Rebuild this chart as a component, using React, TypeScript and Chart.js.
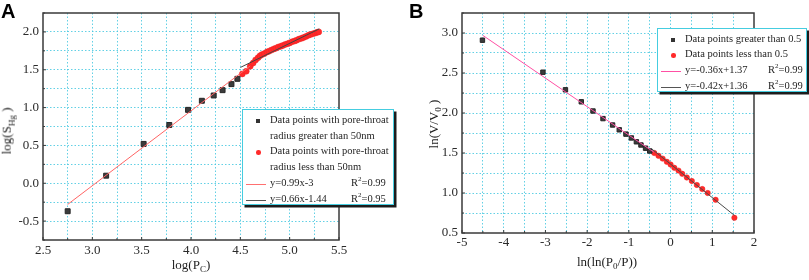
import React, { useEffect, useRef } from 'react';
import { Chart, registerables } from 'chart.js';

Chart.register(...registerables);
Chart.defaults.font.family = 'Liberation Serif';

// ---------------- Panel A data ----------------
const aBigX = [2.75, 3.14, 3.52, 3.78, 3.97, 4.11, 4.23, 4.32, 4.41, 4.47];
const aBigY = [-0.37, 0.1, 0.52, 0.77, 0.97, 1.09, 1.16, 1.23, 1.31, 1.38];
const aSmallX = [4.52, 4.56, 4.6, 4.63, 4.655, 4.68, 4.7, 4.72, 4.745, 4.77, 4.79, 4.815, 4.84, 4.86, 4.885, 4.91, 4.93, 4.955, 4.98, 5.0, 5.025, 5.05, 5.07, 5.095, 5.12, 5.14, 5.165, 5.19, 5.21, 5.235, 5.26, 5.28, 5.295];
const aSmallY = [1.445, 1.48, 1.545, 1.59, 1.63, 1.66, 1.685, 1.7, 1.715, 1.735, 1.745, 1.76, 1.775, 1.785, 1.8, 1.81, 1.82, 1.835, 1.845, 1.855, 1.87, 1.88, 1.89, 1.905, 1.915, 1.925, 1.94, 1.955, 1.965, 1.975, 1.985, 1.995, 2.0];
const aFit1X = [2.75, 4.6];
const aFit1Y = [-0.28, 1.55];
const aFit2X = [4.5, 5.3];
const aFit2Y = [1.53, 2.04];
const aXTicks = ['2.5', '3.0', '3.5', '4.0', '4.5', '5.0', '5.5'];
const aYTicks = ['-0.5', '0.0', '0.5', '1.0', '1.5', '2.0'];

// ---------------- Panel B data ----------------
const bBigX = [-4.51, -3.06, -2.52, -2.14, -1.86, -1.62, -1.39, -1.23, -1.07, -0.94, -0.82, -0.71, -0.6, -0.5];
const bBigY = [2.91, 2.51, 2.29, 2.14, 2.025, 1.93, 1.85, 1.79, 1.736, 1.688, 1.64, 1.6, 1.56, 1.525];
const bSmallX = [-0.39, -0.29, -0.19, -0.09, 0.0, 0.09, 0.19, 0.28, 0.39, 0.51, 0.63, 0.76, 0.89, 1.08, 1.53];
const bSmallY = [1.5, 1.465, 1.43, 1.39, 1.356, 1.315, 1.28, 1.24, 1.194, 1.15, 1.1, 1.05, 1.0, 0.915, 0.69];
const bFit1X = [-4.5, -0.4];
const bFit1Y = [2.97, 1.51];
const bFit2X = [-0.45, 1.53];
const bFit2Y = [1.55, 0.72];
const bXTicks = ['-5', '-4', '-3', '-2', '-1', '0', '1', '2'];
const bYTicks = ['0.5', '1.0', '1.5', '2.0', '2.5', '3.0'];

const SERIF = "'Liberation Serif', 'Times New Roman', serif";
const GRID = 'rgba(70,200,225,0.85)';
const TICK_COLOR = '#2a2a2a';
const SQ_FILL = '#3b3b3b';
const RED = '#ff2a2a';

const pts = (xs: number[], ys: number[]) => xs.map((x, i) => ({ x, y: ys[i] }));

const framePlugin = {
  id: 'frame',
  afterDatasetsDraw(chart: any) {
    const { ctx, chartArea } = chart;
    const { left, top, right, bottom } = chartArea;
    ctx.save();
    ctx.strokeStyle = '#3a3a3a';
    ctx.lineWidth = 1;
    // inward tick marks on the bottom and left axes
    const xs = chart.scales.x;
    const ys = chart.scales.y;
    ctx.beginPath();
    xs.ticks.forEach((t: any, i: number) => {
      const px = xs.getPixelForTick(i);
      const len = xs.getLabels && t.label ? 3 : 2;
      ctx.moveTo(px, bottom);
      ctx.lineTo(px, bottom - (t.label ? 3 : 2));
      void len;
    });
    ys.ticks.forEach((t: any, i: number) => {
      const py = ys.getPixelForTick(i);
      ctx.moveTo(left, py);
      ctx.lineTo(left + (t.label ? 3 : 2), py);
    });
    ctx.stroke();
    ctx.lineWidth = 1.5;
    ctx.strokeRect(left, top, right - left, bottom - top);
    ctx.restore();
  },
};

function makeScale(axis: 'x' | 'y', min: number, max: number, step: number, labels: string[], fit: number, pad: number) {
  return {
    type: 'linear',
    min,
    max,
    afterFit: (s: any) => {
      if (axis === 'x') s.height = fit;
      else s.width = fit;
    },
    ticks: {
      stepSize: step,
      autoSkip: false,
      maxRotation: 0,
      minRotation: 0,
      padding: pad,
      color: TICK_COLOR,
      font: { family: 'Liberation Serif', size: 13 },
      callback: (v: any) => {
        const n = Number(v);
        const lab = labels.find((l) => Math.abs(parseFloat(l) - n) < 1e-6);
        return lab !== undefined ? lab : '';
      },
    },
    grid: {
      color: (c: any) => {
        const v = c.tick ? c.tick.value : null;
        if (v === null || Math.abs(v - min) < 1e-9 || Math.abs(v - max) < 1e-9) return 'rgba(0,0,0,0)';
        return GRID;
      },
      lineWidth: 1,
      drawTicks: false,
    },
    border: { display: false, dash: [1.5, 2] },
  };
}

function buildConfig(p: {
  fit1: { x: number[]; y: number[]; color: string };
  fit2: { x: number[]; y: number[]; color: string };
  big: { x: number[]; y: number[] };
  small: { x: number[]; y: number[] };
  sqR: number;
  dotR: number;
  xScale: any;
  yScale: any;
  padding: any;
}) {
  return {
    type: 'scatter',
    data: {
      datasets: [
        { data: pts(p.fit1.x, p.fit1.y), showLine: true, borderColor: p.fit1.color, borderWidth: 1, pointRadius: 0 },
        { data: pts(p.fit2.x, p.fit2.y), showLine: true, borderColor: p.fit2.color, borderWidth: 1, pointRadius: 0 },
        { data: pts(p.big.x, p.big.y), pointStyle: 'rect', pointRadius: p.sqR, backgroundColor: SQ_FILL, borderColor: '#262626', borderWidth: 1 },
        { data: pts(p.small.x, p.small.y), pointStyle: 'circle', pointRadius: p.dotR, backgroundColor: RED, borderColor: '#f02020', borderWidth: 0.5 },
      ],
    },
    options: {
      responsive: false,
      animation: false,
      events: [],
      layout: { padding: p.padding },
      plugins: { legend: { display: false }, tooltip: { enabled: false } },
      scales: { x: p.xScale, y: p.yScale },
    },
    plugins: [framePlugin],
  };
}

const configA = () =>
  buildConfig({
    fit1: { x: aFit1X, y: aFit1Y, color: '#ff6464' },
    fit2: { x: aFit2X, y: aFit2Y, color: '#444444' },
    big: { x: aBigX, y: aBigY },
    small: { x: aSmallX, y: aSmallY },
    sqR: 3.5,
    dotR: 3,
    xScale: makeScale('x', 2.5, 5.5, 0.25, aXTicks, 40, 3),
    yScale: makeScale('y', -0.75, 2.25, 0.25, aYTicks, 43, 4),
    padding: { top: 13, right: 61, left: 0, bottom: 0 },
  });

const configB = () =>
  buildConfig({
    fit1: { x: bFit1X, y: bFit1Y, color: '#ff50a4' },
    fit2: { x: bFit2X, y: bFit2Y, color: '#4a4a4a' },
    big: { x: bBigX, y: bBigY },
    small: { x: bSmallX, y: bSmallY },
    sqR: 3.1,
    dotR: 2.7,
    xScale: makeScale('x', -5, 2, 0.5, bXTicks, 47, 2),
    yScale: makeScale('y', 0.5, 3.25, 0.25, bYTicks, 57, 4),
    padding: { top: 13, right: 55, left: 0, bottom: 0 },
  });

function ChartCanvas({ left, width, height, make }: { left: number; width: number; height: number; make: () => any }) {
  const ref = useRef<HTMLCanvasElement>(null);
  useEffect(() => {
    const chart = new Chart(ref.current as HTMLCanvasElement, make() as any);
    return () => chart.destroy();
  }, []);
  return <canvas ref={ref} width={width} height={height} style={{ position: 'absolute', left, top: 0, width, height }} />;
}

const textStyle: React.CSSProperties = {
  position: 'absolute',
  fontFamily: SERIF,
  color: '#1e1e1e',
  whiteSpace: 'nowrap',
  lineHeight: 1,
};

function Legend({ left, top, width, height, rows }: { left: number; top: number; width: number; height: number; rows: any[] }) {
  return (
    <div
      style={{
        position: 'absolute',
        left,
        top,
        width,
        height,
        boxSizing: 'border-box',
        background: '#fff',
        border: '1px solid #45cde0',
        boxShadow: '2.5px 2.5px 0 #1c1c1c',
        zIndex: 2,
      }}
    >
      {rows.map((r, i) => (
        <React.Fragment key={i}>
          {r.sym === 'square' && (
            <div style={{ position: 'absolute', left: 13, top: r.y - 2, width: 4, height: 4, background: '#333' }} />
          )}
          {r.sym === 'dot' && (
            <div style={{ position: 'absolute', left: 13, top: r.y - 2, width: 4.5, height: 4.5, borderRadius: '50%', background: RED }} />
          )}
          {r.sym === 'line' && (
            <div style={{ position: 'absolute', left: 3, top: r.y, width: 20, height: 0, borderTop: `1px solid ${r.color}` }} />
          )}
          <div style={{ ...textStyle, left: 27, top: r.y - 6, fontSize: 10.5 }}>{r.text}</div>
          {r.r2 && (
            <div style={{ ...textStyle, left: r.r2x, top: r.y - 6, fontSize: 10.5 }}>
              R<sup style={{ fontSize: 7, verticalAlign: 'top', position: 'relative', top: -2 }}>2</sup>={r.r2}
            </div>
          )}
        </React.Fragment>
      ))}
    </div>
  );
}

export default function App() {
  return (
    <div style={{ position: 'absolute', left: 0, top: 0, width: 809, height: 280, background: '#fff', overflow: 'hidden' }}>
      <ChartCanvas left={0} width={400} height={280} make={configA} />
      <ChartCanvas left={405} width={404} height={280} make={configB} />

      <div style={{ position: 'absolute', left: 1, top: 0, fontFamily: "'Liberation Sans', Arial, sans-serif", fontWeight: 'bold', fontSize: 20 }}>A</div>
      <div style={{ position: 'absolute', left: 409, top: 0, fontFamily: "'Liberation Sans', Arial, sans-serif", fontWeight: 'bold', fontSize: 20 }}>B</div>

      <div style={{ ...textStyle, left: 191, top: 266, fontSize: 13, transform: 'translate(-50%,-50%)' }}>
        log(P<sub style={{ fontSize: 9 }}>C</sub>)
      </div>
      <div style={{ ...textStyle, left: 8, top: 131, fontSize: 13, transform: 'translate(-50%,-50%) rotate(-90deg)' }}>
        log(S<sub style={{ fontSize: 9 }}>Hg</sub> )
      </div>
      <div style={{ ...textStyle, left: 607, top: 263, fontSize: 13, transform: 'translate(-50%,-50%)' }}>
        ln(ln(P<sub style={{ fontSize: 9 }}>0</sub>/P))
      </div>
      <div style={{ ...textStyle, left: 435, top: 124, fontSize: 13, transform: 'translate(-50%,-50%) rotate(-90deg)' }}>
        ln(V/V<sub style={{ fontSize: 9 }}>0</sub> )
      </div>

      <Legend
        left={242}
        top={109}
        width={152}
        height={96}
        rows={[
          { sym: 'square', y: 11, text: 'Data points with pore-throat' },
          { y: 27, text: 'radius greater than 50nm' },
          { sym: 'dot', y: 42, text: 'Data points with pore-throat' },
          { y: 58, text: 'radius less than 50nm' },
          { sym: 'line', color: '#ff7070', y: 74, text: 'y=0.99x-3', r2: '0.99', r2x: 108 },
          { sym: 'line', color: '#555', y: 90, text: 'y=0.66x-1.44', r2: '0.95', r2x: 108 },
        ]}
      />
      <Legend
        left={657}
        top={28}
        width={150}
        height={64}
        rows={[
          { sym: 'square', y: 11, text: 'Data points greater than 0.5' },
          { sym: 'dot', y: 26, text: 'Data points less than 0.5' },
          { sym: 'line', color: '#ff50a4', y: 42, text: 'y=-0.36x+1.37', r2: '0.99', r2x: 110 },
          { sym: 'line', color: '#555', y: 58, text: 'y=-0.42x+1.36', r2: '0.99', r2x: 110 },
        ]}
      />
    </div>
  );
}
